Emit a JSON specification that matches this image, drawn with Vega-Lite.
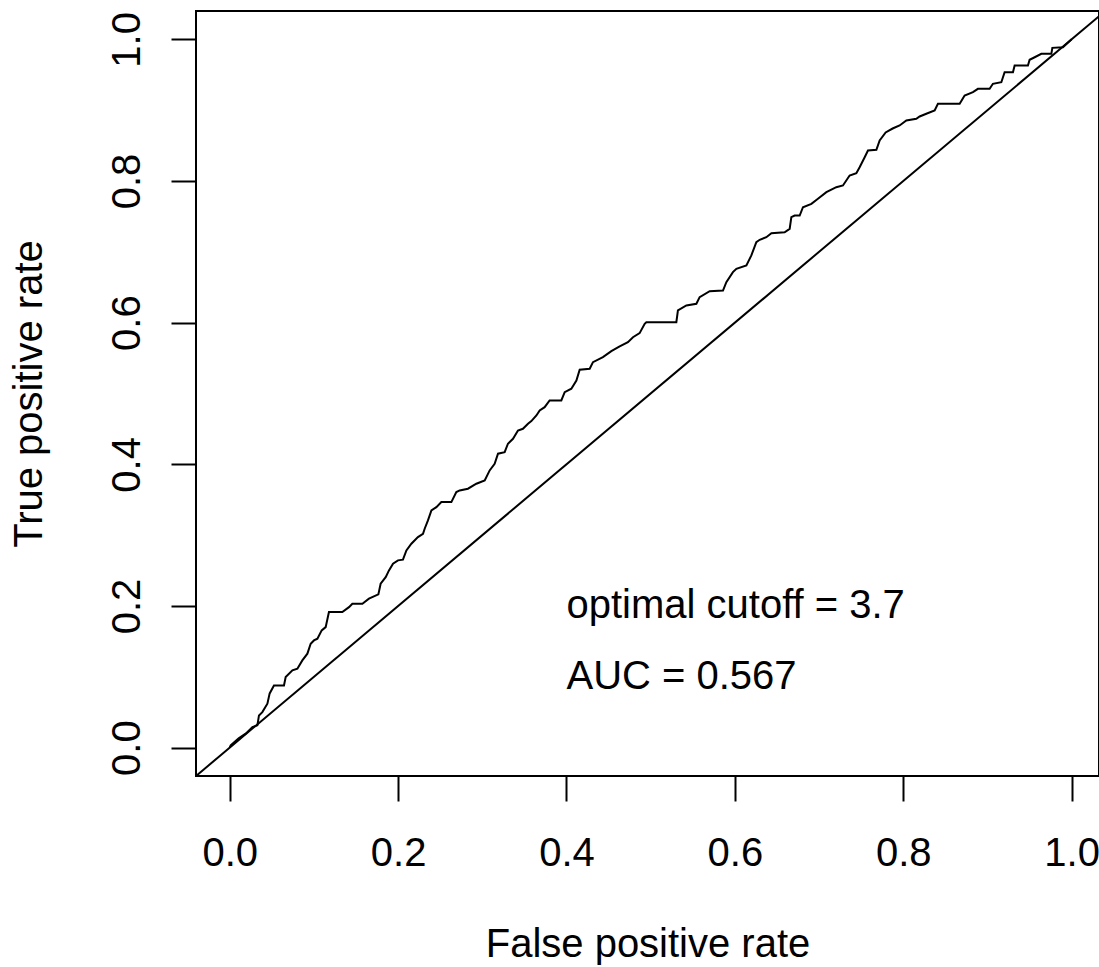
{
  "$schema": "https://vega.github.io/schema/vega-lite/v6.json",
  "width": 903,
  "height": 765,
  "autosize": {"type": "none"},
  "padding": {"left": 196, "top": 11, "right": 0, "bottom": 191},
  "background": "white",
  "config": {
    "view": {"stroke": "black", "strokeWidth": 2},
    "font": "Liberation Sans",
    "axis": {
      "domain": false,
      "grid": false,
      "ticks": true,
      "tickSize": 25,
      "tickWidth": 2,
      "tickColor": "black",
      "labelFont": "Liberation Sans",
      "labelFontSize": 40,
      "labelColor": "black",
      "labelFlush": false,
      "labelOverlap": false,
      "titleFont": "Liberation Sans",
      "titleFontSize": 40,
      "titleFontWeight": "normal",
      "titleColor": "black"
    }
  },
  "datasets": {
    "diag": [{"x": -0.04, "y": -0.04}, {"x": 1.04, "y": 1.04}],
    "notes": [
      {"x": 0.4, "y": 0.2, "label": "optimal cutoff = 3.7"},
      {"x": 0.4, "y": 0.1, "label": "AUC = 0.567"}
    ],
    "roc": [
      {"x": 0, "y": 0},
      {"x": 0.0012, "y": 0.0032},
      {"x": 0.0107, "y": 0.0131},
      {"x": 0.019, "y": 0.0198},
      {"x": 0.027, "y": 0.029},
      {"x": 0.0329, "y": 0.0315},
      {"x": 0.0348, "y": 0.0455},
      {"x": 0.0388, "y": 0.0502},
      {"x": 0.0448, "y": 0.0621},
      {"x": 0.0475, "y": 0.0766},
      {"x": 0.0526, "y": 0.0879},
      {"x": 0.0645, "y": 0.0879},
      {"x": 0.0665, "y": 0.0996},
      {"x": 0.0745, "y": 0.1091},
      {"x": 0.0804, "y": 0.1115},
      {"x": 0.0863, "y": 0.1232},
      {"x": 0.0923, "y": 0.1327},
      {"x": 0.0962, "y": 0.1468},
      {"x": 0.1001, "y": 0.1514},
      {"x": 0.1042, "y": 0.1538},
      {"x": 0.1093, "y": 0.1656},
      {"x": 0.114, "y": 0.1702},
      {"x": 0.1179, "y": 0.1914},
      {"x": 0.1338, "y": 0.1914},
      {"x": 0.1417, "y": 0.1984},
      {"x": 0.1457, "y": 0.2032},
      {"x": 0.1576, "y": 0.2032},
      {"x": 0.1654, "y": 0.2103},
      {"x": 0.1766, "y": 0.2164},
      {"x": 0.1793, "y": 0.2315},
      {"x": 0.1853, "y": 0.2408},
      {"x": 0.1892, "y": 0.2503},
      {"x": 0.194, "y": 0.2597},
      {"x": 0.1999, "y": 0.2644},
      {"x": 0.2058, "y": 0.2654},
      {"x": 0.2099, "y": 0.2785},
      {"x": 0.2158, "y": 0.2879},
      {"x": 0.2236, "y": 0.2973},
      {"x": 0.2296, "y": 0.302},
      {"x": 0.2316, "y": 0.3091},
      {"x": 0.2355, "y": 0.3208},
      {"x": 0.2396, "y": 0.3349},
      {"x": 0.2455, "y": 0.3396},
      {"x": 0.2514, "y": 0.3467},
      {"x": 0.2633, "y": 0.3467},
      {"x": 0.2692, "y": 0.3608},
      {"x": 0.2732, "y": 0.3632},
      {"x": 0.283, "y": 0.3656},
      {"x": 0.293, "y": 0.3726},
      {"x": 0.3029, "y": 0.3773},
      {"x": 0.3088, "y": 0.3914},
      {"x": 0.3147, "y": 0.4008},
      {"x": 0.3187, "y": 0.415},
      {"x": 0.3266, "y": 0.4172},
      {"x": 0.3305, "y": 0.4291},
      {"x": 0.3365, "y": 0.4361},
      {"x": 0.3424, "y": 0.4478},
      {"x": 0.3483, "y": 0.4502},
      {"x": 0.3543, "y": 0.4573},
      {"x": 0.3583, "y": 0.461},
      {"x": 0.3643, "y": 0.469},
      {"x": 0.3682, "y": 0.4761},
      {"x": 0.3741, "y": 0.4807},
      {"x": 0.38, "y": 0.4902},
      {"x": 0.3939, "y": 0.4902},
      {"x": 0.3979, "y": 0.5019},
      {"x": 0.4058, "y": 0.5067},
      {"x": 0.4118, "y": 0.5184},
      {"x": 0.4157, "y": 0.5335},
      {"x": 0.4276, "y": 0.5349},
      {"x": 0.4315, "y": 0.5443},
      {"x": 0.4433, "y": 0.5513},
      {"x": 0.4533, "y": 0.5598},
      {"x": 0.4632, "y": 0.5664},
      {"x": 0.473, "y": 0.5725},
      {"x": 0.479, "y": 0.5795},
      {"x": 0.4869, "y": 0.5852},
      {"x": 0.4929, "y": 0.5984},
      {"x": 0.4949, "y": 0.6007},
      {"x": 0.5305, "y": 0.6007},
      {"x": 0.5324, "y": 0.6172},
      {"x": 0.5424, "y": 0.6243},
      {"x": 0.5543, "y": 0.6267},
      {"x": 0.5582, "y": 0.636},
      {"x": 0.5701, "y": 0.6445},
      {"x": 0.5859, "y": 0.6454},
      {"x": 0.5899, "y": 0.6572},
      {"x": 0.5977, "y": 0.6713},
      {"x": 0.6018, "y": 0.6761},
      {"x": 0.6137, "y": 0.6807},
      {"x": 0.6196, "y": 0.6949},
      {"x": 0.6255, "y": 0.7136},
      {"x": 0.6295, "y": 0.717},
      {"x": 0.6374, "y": 0.7207},
      {"x": 0.6434, "y": 0.7263},
      {"x": 0.6591, "y": 0.7277},
      {"x": 0.6651, "y": 0.7325},
      {"x": 0.6671, "y": 0.7489},
      {"x": 0.671, "y": 0.7513},
      {"x": 0.677, "y": 0.7513},
      {"x": 0.6809, "y": 0.763},
      {"x": 0.6909, "y": 0.7678},
      {"x": 0.6987, "y": 0.7749},
      {"x": 0.7087, "y": 0.7842},
      {"x": 0.7205, "y": 0.7913},
      {"x": 0.7284, "y": 0.7937},
      {"x": 0.7363, "y": 0.8078},
      {"x": 0.7443, "y": 0.811},
      {"x": 0.7482, "y": 0.8195},
      {"x": 0.7542, "y": 0.8336},
      {"x": 0.7581, "y": 0.8431},
      {"x": 0.7681, "y": 0.844},
      {"x": 0.772, "y": 0.8572},
      {"x": 0.7791, "y": 0.8685},
      {"x": 0.7874, "y": 0.8741},
      {"x": 0.7957, "y": 0.8784},
      {"x": 0.8037, "y": 0.8854},
      {"x": 0.8155, "y": 0.8878},
      {"x": 0.8195, "y": 0.8911},
      {"x": 0.8274, "y": 0.8949},
      {"x": 0.8373, "y": 0.8996},
      {"x": 0.8412, "y": 0.909},
      {"x": 0.867, "y": 0.909},
      {"x": 0.8729, "y": 0.9207},
      {"x": 0.8828, "y": 0.9254},
      {"x": 0.8887, "y": 0.9301},
      {"x": 0.9026, "y": 0.9301},
      {"x": 0.9065, "y": 0.9372},
      {"x": 0.9165, "y": 0.9395},
      {"x": 0.9204, "y": 0.9536},
      {"x": 0.9303, "y": 0.9536},
      {"x": 0.9323, "y": 0.963},
      {"x": 0.9481, "y": 0.963},
      {"x": 0.9501, "y": 0.9711},
      {"x": 0.9561, "y": 0.9747},
      {"x": 0.964, "y": 0.9795},
      {"x": 0.9759, "y": 0.9795},
      {"x": 0.9771, "y": 0.988},
      {"x": 0.9897, "y": 0.9888},
      {"x": 1.0, "y": 1.0}
    ]
  },
  "layer": [
    {
      "data": {"name": "diag"},
      "mark": {"type": "line", "color": "black", "strokeWidth": 2, "clip": true},
      "encoding": {
        "x": {
          "field": "x", "type": "quantitative",
          "scale": {"domain": [-0.04, 1.0325], "nice": false, "zero": false},
          "axis": {
            "values": [0, 0.2, 0.4, 0.6, 0.8, 1.0],
            "format": ".1f",
            "labelPadding": 32,
            "title": "False positive rate",
            "titlePadding": 51
          }
        },
        "y": {
          "field": "y", "type": "quantitative",
          "scale": {"domain": [-0.04, 1.04], "nice": false, "zero": false},
          "axis": {
            "values": [0, 0.2, 0.4, 0.6, 0.8, 1.0],
            "format": ".1f",
            "labelAngle": -90,
            "labelAlign": "center",
            "labelBaseline": "alphabetic",
            "labelPadding": 32,
            "title": "True positive rate",
            "titlePadding": 58
          }
        }
      }
    },
    {
      "data": {"name": "roc"},
      "mark": {"type": "line", "color": "black", "strokeWidth": 2, "clip": true},
      "encoding": {
        "x": {"field": "x", "type": "quantitative"},
        "y": {"field": "y", "type": "quantitative"},
        "order": {"field": "x", "type": "quantitative"}
      }
    },
    {
      "data": {"name": "notes"},
      "mark": {"type": "text", "align": "left", "baseline": "middle", "fontSize": 40, "color": "black", "font": "Liberation Sans"},
      "encoding": {
        "x": {"field": "x", "type": "quantitative"},
        "y": {"field": "y", "type": "quantitative"},
        "text": {"field": "label"}
      }
    }
  ]
}
